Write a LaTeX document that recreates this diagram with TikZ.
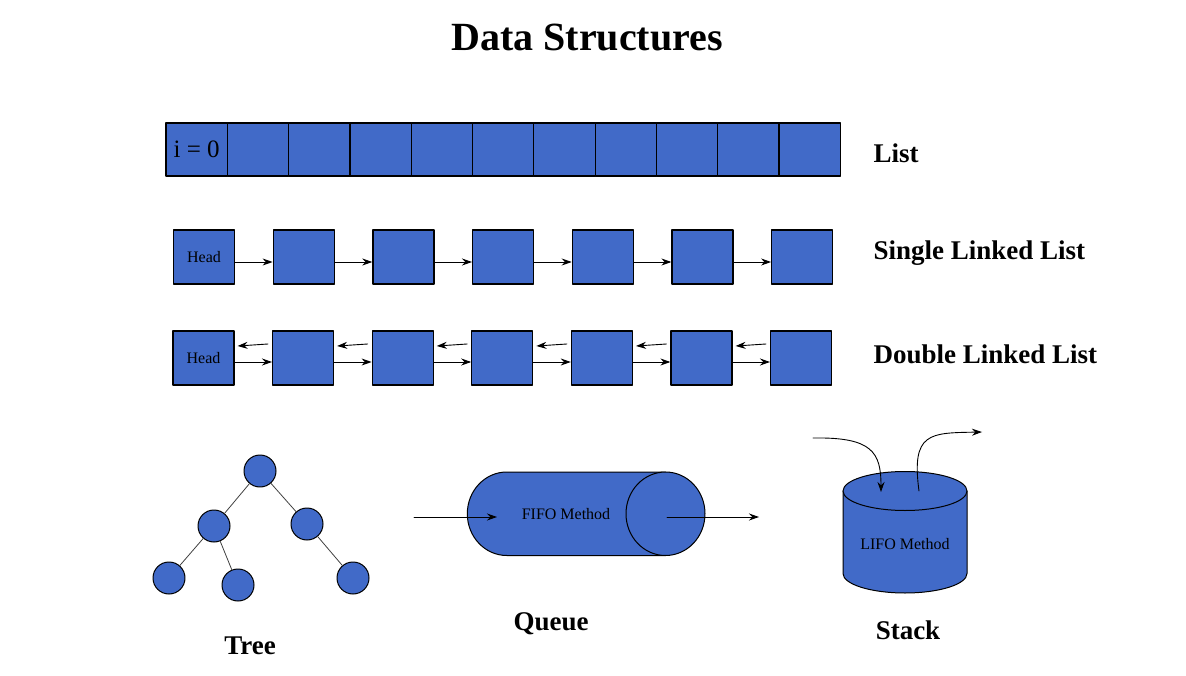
\documentclass[tikz,border=0pt]{standalone}
\usepackage{fontspec}
\setmainfont{Liberation Serif}
\usetikzlibrary{arrows.meta}
\definecolor{cellblue}{RGB}{65,106,200}

\begin{document}
\begin{tikzpicture}[
	x=1pt,y=-1pt,
	>={Stealth[length=10pt,width=7pt]},
	line cap=round,
	line join=round,
	cell/.style={draw,fill=cellblue,line width=1.2pt,minimum width=61pt,minimum height=54pt,inner sep=0pt,font=\fontsize{16}{16}\selectfont},
	knot/.style={circle,draw,fill=cellblue,line width=1pt,minimum size=32pt,inner sep=0pt},
	heading/.style={font=\fontsize{27}{27}\selectfont\bfseries},
	small/.style={font=\fontsize{16}{16}\selectfont},
	link/.style={->,line width=0.9pt}
	]
	\useasboundingbox (0,0) rectangle (1186,676);
	\node[font=\fontsize{40}{40}\selectfont\bfseries] (title) at (587,38) {Data Structures};

	% list
	\node[cell,minimum width=61.3pt,minimum height=53pt,font=\fontsize{25}{25}\selectfont] (a0) at (196.7,149.5) {i = 0};
	\foreach \i in {1,...,10}
		\node[cell,minimum width=61.3pt,minimum height=53pt] (a\i) at ({196.7+61.3*\i},149.5) {};
	\node[heading,anchor=west] (listlabel) at (870,153) {List};

	% single linked list
	\node[cell] (s0) at (204,257) {Head};
	\foreach \i in {1,...,6}
		\node[cell] (s\i) at ({204+99.7*\i},257) {};
	\foreach \i [count=\j] in {0,...,5}
		\draw[link] ([yshift=-5pt]s\i.east) -- ([yshift=-5pt]s\j.west);
	\node[heading,anchor=west] (singlelabel) at (870,253) {Single Linked List};

	% double linked list
	\node[cell] (d0) at (203.5,358) {Head};
	\foreach \i in {1,...,6}
		\node[cell] (d\i) at ({203.5+99.6*\i},358) {};
	\foreach \i [count=\j] in {0,...,5} {
		\draw[link] ([yshift=-4pt]d\i.east) -- ([yshift=-4pt]d\j.west);
		\draw[link] ([xshift=-4pt,yshift=14pt]d\j.west) -- ([xshift=3pt,yshift=12pt]d\i.east);
	}
	\node[heading,anchor=west] (doublelabel) at (870,354) {Double Linked List};

	% tree
	\node[knot] (root) at (260,471) {};
	\node[knot] (tl) at (214,526) {};
	\node[knot] (tr) at (307,524) {};
	\node[knot] (tll) at (169,578) {};
	\node[knot] (tlr) at (238,585) {};
	\node[knot] (trr) at (353,578) {};
	\begin{scope}[line width=0.8pt,black!75]
		\draw (root) -- (tl);
		\draw (root) -- (tr);
		\draw (tl) -- (tll);
		\draw (tl) -- (tlr);
		\draw (tr) -- (trr);
	\end{scope}
	\node[heading] (treelabel) at (250,646) {Tree};

	% queue
	\draw[fill=cellblue,line width=1pt] (665.5,472) -- (506.8,472)
		arc[start angle=-90,end angle=-270,x radius=39.5,y radius=41.75] -- (665.5,555.5);
	\draw[fill=cellblue,line width=1pt] (665.5,513.75) ellipse[x radius=39.5,y radius=41.75];
	\node[small] (fifo) at (566,514) {FIFO Method};
	\coordinate (qin) at (414,517);
	\coordinate (qtail) at (497,517);
	\coordinate (qhead) at (667,517);
	\coordinate (qout) at (759,517);
	\draw[link] (qin) -- (qtail);
	\draw[link] (qhead) -- (qout);
	\node[heading] (queuelabel) at (551,624) {Queue};

	% stack
	\draw[fill=cellblue,line width=1pt] (843,491) -- (843,573.5)
		arc[start angle=180,end angle=0,x radius=62,y radius=19.5] -- (967,491);
	\draw[fill=cellblue,line width=1pt] (905,491) ellipse[x radius=62,y radius=19.5];
	\node[small] (lifo) at (905,544) {LIFO Method};
	\coordinate (pushstart) at (813,438);
	\coordinate (pushend) at (881,492);
	\coordinate (popstart) at (919,491);
	\coordinate (popend) at (982,432);
	\draw[link] (pushstart) .. controls (872,437) and (881,452) .. (pushend);
	\draw[link] (popstart) .. controls (911,432) and (930,433) .. (popend);
	\node[heading] (stacklabel) at (908,630) {Stack};
\end{tikzpicture}
\end{document}
